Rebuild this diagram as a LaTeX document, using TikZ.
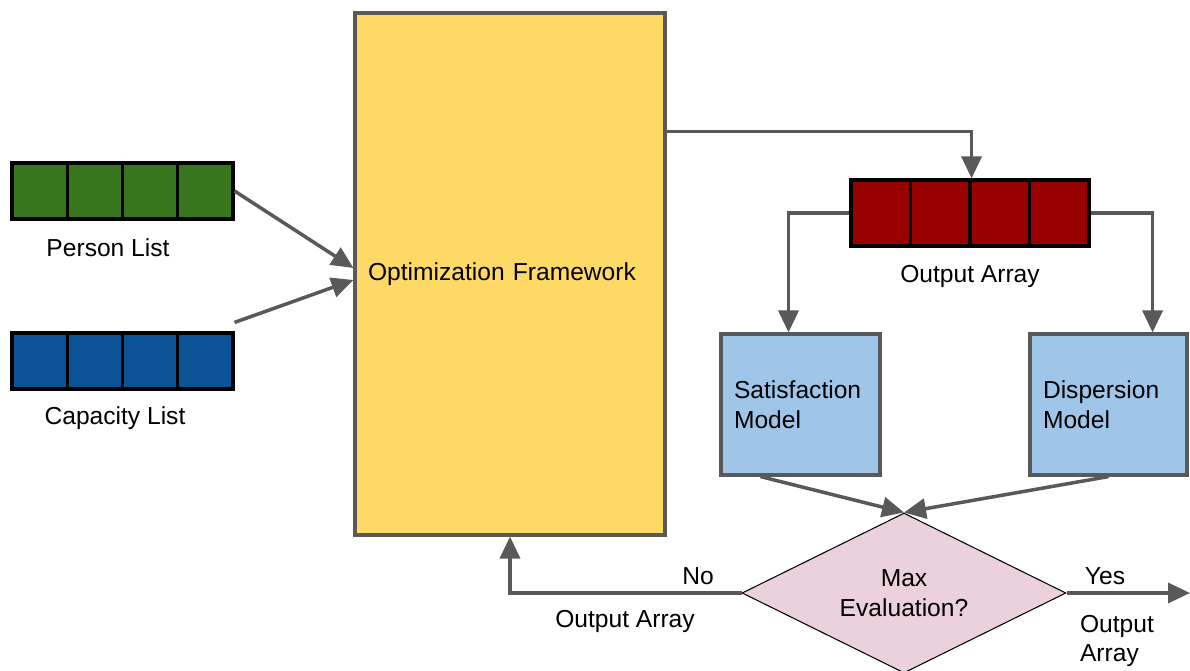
\documentclass[tikz,border=0pt]{standalone}
\usepackage{fontspec}
\setmainfont{Liberation Sans}
\usetikzlibrary{shapes.geometric,arrows.meta}
\definecolor{persongreen}{HTML}{38761D}
\definecolor{capblue}{HTML}{0B5394}
\definecolor{outred}{HTML}{990000}
\definecolor{frameyellow}{HTML}{FFD966}
\definecolor{modelblue}{HTML}{9FC5E8}
\definecolor{evalpink}{HTML}{EAD1DC}
\definecolor{linegray}{HTML}{595959}
\begin{document}
\begin{tikzpicture}[x=0.02cm,y=-0.02cm,
  font=\fontsize{14}{16.8}\selectfont,
  flow/.style={draw=linegray,line width=2pt,-{Triangle[length=0.44cm,width=0.4cm]}},
  cell/.style={draw=black,line width=1.8pt,inner sep=0pt},
  model/.style={draw=linegray,line width=1.8pt,fill=modelblue,minimum height=2.82cm,
    inner xsep=0.26cm,text width=2.66cm,align=left}]
  \useasboundingbox (0,0) rectangle (1190,671);
  \clip (0,0) rectangle (1190,671);
  % input lists
  \foreach \i in {0,...,3} {
    \node[cell,fill=persongreen,minimum width=1.105cm,minimum height=1.12cm] (p\i) at ({39.6+55.25*\i},191) {};
    \node[cell,fill=capblue,minimum width=1.105cm,minimum height=1.12cm] (c\i) at ({39.6+55.25*\i},361) {};
  }
  \node (plabel) at (108,248) {Person List};
  \node (clabel) at (115,418) {Capacity List};
  % framework
  \node[draw=linegray,line width=1.8pt,fill=frameyellow,minimum height=10.44cm,
    inner xsep=0.26cm,text width=5.68cm,align=left] (frame) at (510,274) {Optimization Framework};
  % output array
  \foreach \i in {0,...,3}
    \node[cell,fill=outred,minimum width=1.19cm,minimum height=1.32cm] (o\i) at ({880.75+59.5*\i},213) {};
  \node (olabel) at (970,276) {Output Array};
  % models and check
  \node[model] (sat) at (800.5,404.5) {Satisfaction\\Model};
  \node[model,text width=2.62cm] (disp) at (1108.5,404.5) {Dispersion\\Model};
  \node[diamond,draw=black,line width=0.6pt,fill=evalpink,aspect=2.025,inner sep=0pt,
    minimum width=6.48cm,minimum height=3.2cm,align=center] (eval) at (904,593) {Max\\Evaluation?};
  \coordinate (out) at (1190,593);
  % connectors
  \draw[flow] (p3.east) -- ([yshift=0.12cm]frame.west);
  \draw[flow] ([yshift=0.18cm]c3.north east) -- ([yshift=-0.12cm]frame.west);
  \draw[flow] ([yshift=-2.4cm]frame.north east) -| (o1.north east);
  \draw[flow] (o0.west) -| ([xshift=-0.24cm]sat.north);
  \draw[flow] (o3.east) -| ([xshift=-0.72cm]disp.north east);
  \draw[flow] ([xshift=-0.8cm]sat.south) -- (eval.north);
  \draw[flow] (disp.south) -- (eval.north);
  \draw[flow] (eval.west) -| (frame.south);
  \draw[flow] (eval.east) -- (out);
  \node (nolabel) at (698,576) {No};
  \node (backlabel) at (625,621) {Output Array};
  \node (yeslabel) at (1105,576) {Yes};
  \node[align=left] (outlabel) at (1117,641) {Output\\Array};
\end{tikzpicture}
\end{document}
